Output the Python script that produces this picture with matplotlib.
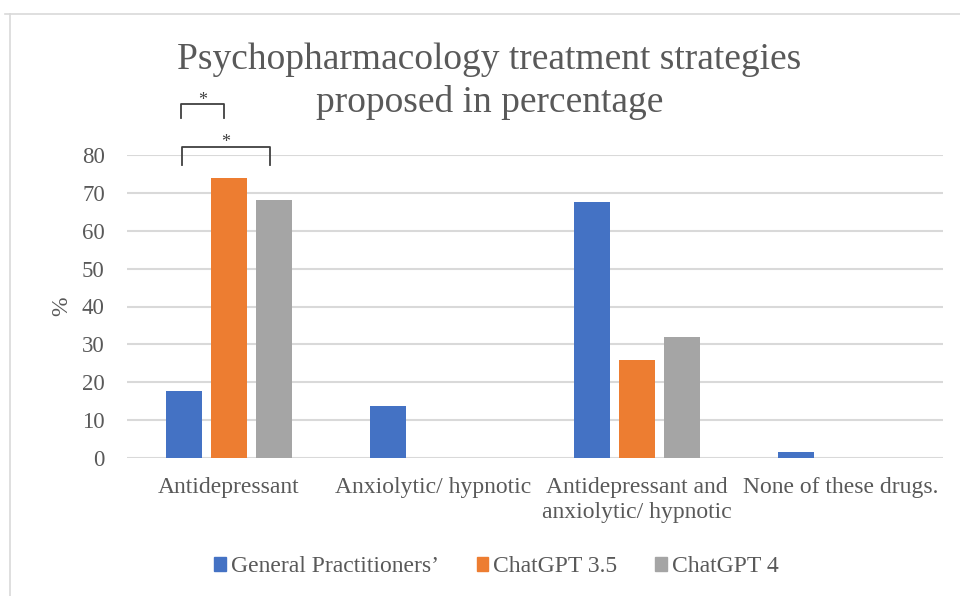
import numpy as np
import matplotlib.pyplot as plt
from matplotlib.lines import Line2D

categories = ['Antidepressant', 'Anxiolytic/ hypnotic',
              'Antidepressant and\nanxiolytic/ hypnotic', 'None of these drugs.']
series_names = ["General Practitioners’", 'ChatGPT 3.5', 'ChatGPT 4']
gp_values = [17.6, 13.6, 67.6, 1.6]
gpt35_values = [74.0, 0.0, 26.0, 0.0]
gpt4_values = [68.0, 0.0, 32.0, 0.0]
colors = ['#4472C4', '#ED7D31', '#A5A5A5']
yticks = [0, 10, 20, 30, 40, 50, 60, 70, 80]
title_lines = ['Psychopharmacology treatment strategies', 'proposed in percentage']

text_color = '#595959'
plt.rcParams['font.family'] = ['Liberation Serif', 'DejaVu Serif']

fig = plt.figure(figsize=(9.6, 5.96), dpi=100)
ax = fig.add_axes([127 / 960, 1 - 458 / 596, 816 / 960, 303 / 596])

x = np.arange(len(categories))
width = 0.176
step = 0.22
for i, (vals, name, c) in enumerate(zip([gp_values, gpt35_values, gpt4_values], series_names, colors)):
    ax.bar(x + (i - 1) * step, vals, width, color=c, label=name, zorder=3)

ax.set_xlim(-0.5, len(categories) - 0.5)
ax.set_ylim(0, 80)
ax.set_yticks(yticks)
ax.set_yticklabels([str(t) for t in yticks], fontsize=16.5, color=text_color)
ax.set_xticks(x)
ax.set_xticklabels(categories, fontsize=17, color=text_color, linespacing=1.22)
ax.tick_params(length=0)
ax.tick_params(axis='y', pad=16)
ax.tick_params(axis='x', pad=14)
ax.grid(axis='y', color='#d9d9d9', linewidth=1.5, zorder=0)
for s in ax.spines.values():
    s.set_visible(False)
ax.set_ylabel('%', fontsize=17, color=text_color, labelpad=7)

# significance brackets
def bracket(x0, x1, y_top, y_bot):
    ax.plot([x0, x0, x1, x1], [y_bot, y_top, y_top, y_bot], color='#404040',
            linewidth=1.3, clip_on=False, zorder=4)
    ax.text((x0 + x1) / 2, y_top + 1.0, '*', ha='center', va='center',
            fontsize=13, color='#404040', clip_on=False)

bracket(x[0] - step - 0.015, x[0] - 0.025, 93.4, 89.8)
bracket(x[0] - step - 0.01, x[0] + step - 0.02, 82.2, 77.4)

# title, one text per line
fig.text(0.51, 1 - 60 / 596, title_lines[0], ha='center', va='center',
         fontsize=27, color=text_color)
fig.text(0.51, 1 - 102 / 596, title_lines[1], ha='center', va='center',
         fontsize=27, color=text_color)

handles = [plt.Rectangle((0, 0), 1, 1, color=c) for c in colors]
fig.legend(handles, series_names, loc='center', bbox_to_anchor=(0.517, 1 - 567 / 596),
           ncol=3, frameon=False, fontsize=17, handlelength=0.5, handleheight=0.5,
           handletextpad=0.2, columnspacing=1.6, labelcolor=text_color)

# outer chart frame
fig.add_artist(Line2D([5 / 960, 1], [1 - 14 / 596, 1 - 14 / 596], color='#d9d9d9', linewidth=1.2))
fig.add_artist(Line2D([10 / 960, 10 / 960], [0, 1 - 14 / 596], color='#d9d9d9', linewidth=1.2))

fig.savefig('out.png', dpi=100)
